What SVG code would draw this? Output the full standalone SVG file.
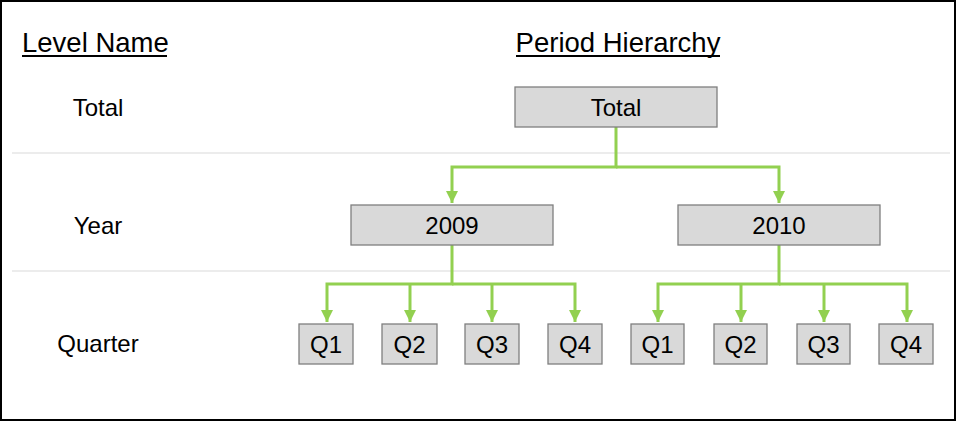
<svg xmlns="http://www.w3.org/2000/svg" width="956" height="421" viewBox="0 0 956 421">
<style>
text{font-family:"Liberation Sans",Arial,sans-serif;fill:#000}
.hd{font-size:27.5px}
.lb{font-size:24px;text-anchor:middle}
.box{fill:#d9d9d9;stroke:#7f7f7f;stroke-width:1.3}
.sep{stroke:#d9d9d9;stroke-width:1.2}
.con{fill:none;stroke:#92d050;stroke-width:3}
</style>
<defs>
<marker id="ar" viewBox="0 0 10 10" refX="10" refY="5" markerWidth="4" markerHeight="4" orient="auto" markerUnits="strokeWidth">
<path d="M0,0L10,5L0,10z" fill="#92d050"/>
</marker>
</defs>
<rect x="1" y="1" width="954" height="419" fill="#fff" stroke="#000" stroke-width="2"/>
<line class="sep" x1="12" y1="153" x2="950" y2="153"/>
<line class="sep" x1="12" y1="271" x2="950" y2="271"/>
<g id="headers">
<text class="hd" x="22" y="52">Level Name</text>
<rect x="22" y="55" width="145" height="2"/>
<text class="hd" x="618" y="52" text-anchor="middle">Period Hierarchy</text>
<rect x="516" y="55" width="204" height="2"/>
</g>
<g id="levels">
<text class="lb" x="98" y="116">Total</text>
<text class="lb" x="98" y="234">Year</text>
<text class="lb" x="98" y="352">Quarter</text>
</g>
<g id="connectors">
<path class="con" d="M616,127V167H452V203" marker-end="url(#ar)"/>
<path class="con" d="M616,167H779V203" marker-end="url(#ar)"/>
<path class="con" d="M452,245V284H327V322" marker-end="url(#ar)"/>
<path class="con" d="M410,284V322" marker-end="url(#ar)"/>
<path class="con" d="M492,284V322" marker-end="url(#ar)"/>
<path class="con" d="M452,284H575V322" marker-end="url(#ar)"/>
<path class="con" d="M779,245V284H658V322" marker-end="url(#ar)"/>
<path class="con" d="M741,284V322" marker-end="url(#ar)"/>
<path class="con" d="M824,284V322" marker-end="url(#ar)"/>
<path class="con" d="M779,284H907V322" marker-end="url(#ar)"/>
</g>
<g id="n-total"><rect class="box" x="515" y="87" width="202" height="40"/><text class="lb" x="616" y="116">Total</text></g>
<g id="n-2009"><rect class="box" x="351" y="205" width="202" height="40"/><text class="lb" x="452" y="234">2009</text></g>
<g id="n-2010"><rect class="box" x="678" y="205" width="202" height="40"/><text class="lb" x="779" y="234">2010</text></g>
<g id="n-2009-q1"><rect class="box" x="299" y="324" width="54" height="40"/><text class="lb" x="326" y="353">Q1</text></g>
<g id="n-2009-q2"><rect class="box" x="382" y="324" width="55" height="40"/><text class="lb" x="409.5" y="353">Q2</text></g>
<g id="n-2009-q3"><rect class="box" x="465" y="324" width="54" height="40"/><text class="lb" x="492" y="353">Q3</text></g>
<g id="n-2009-q4"><rect class="box" x="548" y="324" width="54" height="40"/><text class="lb" x="575" y="353">Q4</text></g>
<g id="n-2010-q1"><rect class="box" x="631" y="324" width="53" height="40"/><text class="lb" x="657.5" y="353">Q1</text></g>
<g id="n-2010-q2"><rect class="box" x="714" y="324" width="53" height="40"/><text class="lb" x="740.5" y="353">Q2</text></g>
<g id="n-2010-q3"><rect class="box" x="797" y="324" width="53" height="40"/><text class="lb" x="823.5" y="353">Q3</text></g>
<g id="n-2010-q4"><rect class="box" x="879" y="324" width="54" height="40"/><text class="lb" x="906" y="353">Q4</text></g>
</svg>
